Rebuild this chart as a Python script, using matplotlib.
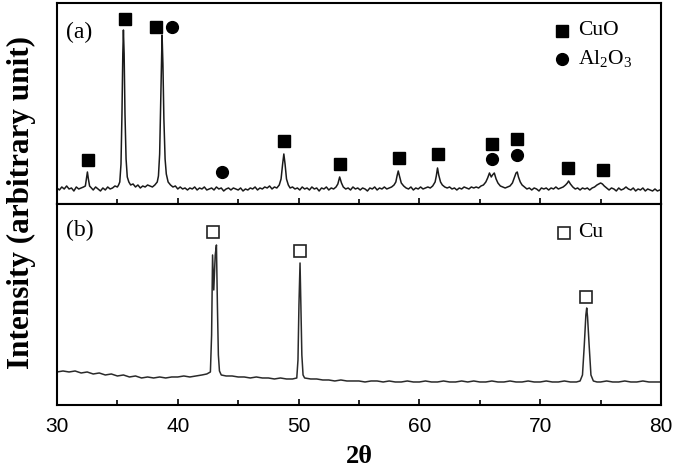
import matplotlib
matplotlib.use("Agg")
import matplotlib.pyplot as plt
from matplotlib.ticker import MultipleLocator

plt.rcParams["mathtext.fontset"] = "custom"
plt.rcParams["mathtext.rm"] = "Liberation Serif"

# (a) CuO / Al2O3 pattern (2theta, intensity)
tt_a = [30.0, 30.2, 30.4, 30.6, 30.8, 31.0, 31.2, 31.4, 31.6, 31.8, 32.0, 32.2,
        32.35, 32.45, 32.52, 32.6, 32.7, 32.85,
        33.0, 33.2, 33.4, 33.6, 33.8, 34.0, 34.2, 34.4, 34.6, 34.8, 35.0, 35.1,
        35.2, 35.3, 35.38, 35.45, 35.5, 35.56, 35.63, 35.72, 35.82, 35.95, 36.1, 36.3,
        36.5, 36.7, 36.9, 37.1, 37.3, 37.5, 37.7, 37.9, 38.1, 38.3,
        38.4, 38.5, 38.6, 38.7, 38.77, 38.85, 38.95, 39.05, 39.2, 39.4, 39.6, 39.8,
        40.0, 40.2, 40.4, 40.6, 40.8, 41.0, 41.2, 41.4, 41.6, 41.8, 42.0, 42.2, 42.4,
        42.6, 42.8, 43.0, 43.2, 43.4, 43.6, 43.8, 44.0, 44.2, 44.4, 44.6, 44.8, 45.0,
        45.2, 45.4, 45.6, 45.8, 46.0, 46.2, 46.4, 46.6, 46.8, 47.0, 47.2, 47.4, 47.6,
        47.8, 48.0, 48.2, 48.4,
        48.55, 48.68, 48.78, 48.88, 49.0, 49.15, 49.3, 49.5, 49.7, 49.9, 50.1, 50.3,
        50.5, 50.7, 50.9, 51.1, 51.3, 51.5, 51.7, 51.9, 52.1, 52.3, 52.5, 52.7, 52.9,
        53.1, 53.25, 53.4, 53.55, 53.7, 53.9, 54.1, 54.3, 54.5, 54.7, 54.9, 55.1, 55.3,
        55.5, 55.7, 55.9, 56.1, 56.3, 56.5, 56.7, 56.9, 57.1, 57.3, 57.5, 57.7, 57.9,
        58.05, 58.15, 58.25, 58.35, 58.5, 58.7, 58.9, 59.1, 59.3, 59.5, 59.7, 59.9,
        60.1, 60.3, 60.5, 60.7, 60.9, 61.1, 61.3,
        61.4, 61.5, 61.6, 61.75, 61.9, 62.1, 62.3, 62.5, 62.7, 62.9, 63.1, 63.3, 63.5,
        63.7, 63.9, 64.1, 64.3, 64.5, 64.7, 64.9, 65.1, 65.3, 65.5,
        65.65, 65.8, 65.95, 66.05, 66.2, 66.35, 66.5, 66.7, 66.9, 67.1, 67.3, 67.5,
        67.7, 67.85, 68.0, 68.1, 68.2, 68.35, 68.5, 68.7, 68.9, 69.1, 69.3, 69.5,
        69.7, 69.9, 70.1, 70.3, 70.5, 70.7, 70.9, 71.1, 71.3, 71.5, 71.7, 71.9, 72.1,
        72.25, 72.35, 72.5, 72.7, 72.9, 73.1, 73.3, 73.5, 73.7, 73.9, 74.1, 74.3,
        74.5, 74.7, 74.85, 75.0, 75.15, 75.3, 75.5, 75.7, 75.9, 76.1, 76.3, 76.5,
        76.7, 76.9, 77.1, 77.3, 77.5, 77.7, 77.9, 78.1, 78.3, 78.5, 78.7, 78.9,
        79.1, 79.3, 79.5, 79.7, 79.9, 80.0]
int_a = [16, 14, 17, 15, 18, 15, 16, 13, 17, 15, 16, 17,
         18, 26, 32, 25, 18, 16,
         14, 17, 15, 13, 16, 14, 17, 15, 16, 18, 17, 19,
         22, 40, 90, 150, 174, 150, 90, 45, 27, 22, 19, 20,
         17, 19, 16, 18, 17, 19, 18, 17, 19, 22,
         28, 50, 110, 169, 140, 85, 45, 30, 22, 19, 17, 18,
         15, 17, 15, 16, 14, 16, 15, 17, 14, 16, 15, 17, 14,
         15, 16, 14, 17, 15, 16, 13, 15, 16, 14, 16, 15, 14,
         16, 13, 15, 14, 16, 15, 17, 14, 16, 15, 17, 16, 18,
         15, 17, 16, 19,
         25, 40, 50, 40, 25, 19, 16, 17, 15, 16, 14, 17,
         15, 16, 14, 17, 15, 16, 13, 16, 15, 17, 14, 16, 15,
         17, 20, 27, 21, 17, 15, 16, 14, 17, 15, 16, 14, 16,
         15, 13, 16, 15, 17, 14, 16, 15, 17, 15, 16, 17, 19,
         22, 28, 33, 28, 21, 18, 16, 15, 17, 14, 16, 15,
         17, 15, 16, 17, 16, 18, 22,
         28, 36, 29, 22, 19, 17, 16, 17, 15, 16, 14, 16, 15,
         17, 16, 15, 17, 16, 17, 16, 18, 19, 22,
         26, 31, 27, 29, 31, 25, 21, 18, 17, 16, 17, 18,
         21, 26, 31, 32, 27, 22, 19, 17, 15, 16, 14, 16,
         15, 13, 16, 15, 16, 14, 16, 15, 17, 15, 16, 17, 19,
         21, 23, 20, 17, 15, 16, 14, 16, 15, 16, 14, 16,
         17, 19, 20, 21, 20, 18, 16, 14, 16, 15, 13, 16,
         14, 15, 17, 15, 14, 16, 13, 15, 14, 16, 13, 15,
         14, 13, 15, 13, 14, 14]

# (b) Cu pattern
tt_b = [30.0, 30.5, 31.0, 31.5, 32.0, 32.5, 33.0, 33.5, 34.0, 34.5, 35.0, 35.5,
        36.0, 36.5, 37.0, 37.5, 38.0, 38.5, 39.0, 39.5, 40.0, 40.5, 41.0, 41.5,
        42.0, 42.4, 42.7, 42.8, 42.88, 42.98, 43.1, 43.2, 43.28, 43.36, 43.45,
        43.6, 44.0, 44.5, 45.0, 45.5, 46.0, 46.5, 47.0, 47.5, 48.0, 48.5, 49.0,
        49.5, 49.85, 49.95, 50.03, 50.12, 50.19, 50.27, 50.37, 50.5, 51.0, 51.5,
        52.0, 52.5, 53.0, 53.5, 54.0, 54.5, 55.0, 55.5, 56.0, 56.5, 57.0, 57.5,
        58.0, 58.5, 59.0, 59.5, 60.0, 60.5, 61.0, 61.5, 62.0, 62.5, 63.0, 63.5,
        64.0, 64.5, 65.0, 65.5, 66.0, 66.5, 67.0, 67.5, 68.0, 68.5, 69.0, 69.5,
        70.0, 70.5, 71.0, 71.5, 72.0, 72.5, 73.0, 73.3, 73.5, 73.65, 73.78, 73.85,
        73.92, 74.05, 74.2, 74.4, 74.7, 75.0, 75.5, 76.0, 76.5, 77.0, 77.5, 78.0,
        78.5, 79.0, 79.5, 80.0]
int_b = [33, 34, 33, 34, 32, 33, 31, 32, 30, 31, 29, 30,
         28, 29, 27, 28, 27, 28, 27, 28, 28, 29, 28, 29,
         30, 31, 33, 70, 150, 115, 150, 160, 100, 50, 34,
         30, 29, 29, 28, 28, 27, 28, 27, 27, 26, 27, 26,
         26, 27, 45, 100, 142, 100, 50, 30, 27, 26, 26,
         25, 25, 24, 25, 24, 24, 24, 23, 24, 24, 23, 24,
         23, 23, 24, 23, 23, 24, 23, 23, 24, 23, 23, 24,
         23, 24, 23, 23, 24, 23, 23, 24, 23, 23, 24, 23,
         23, 24, 23, 23, 24, 23, 23, 24, 30, 60, 90, 97,
         88, 60, 30, 24, 23, 23, 24, 23, 23, 24, 23, 23,
         24, 23, 23, 23]

# phase markers
cuo_x = [32.55, 35.65, 38.17, 48.79, 53.43, 58.34, 61.51, 66.04, 68.05, 72.33, 75.2]
cuo_y = [44, 185, 177, 63, 40, 46, 50, 60, 65, 36, 34]
al2o3_x = [39.49, 43.63, 66.04, 68.05]
al2o3_y = [177, 32, 45, 49]
cu_x = [42.94, 50.12, 73.8]
cu_y = [173, 154, 108]

fig = plt.figure(figsize=(6.79, 4.67), dpi=100)
ax1 = fig.add_axes([0.0839, 0.5632, 0.8896, 0.4304])
ax2 = fig.add_axes([0.0839, 0.1328, 0.8896, 0.4304], sharex=ax1)

serif = "Liberation Serif"
mk = dict(linestyle="none", markersize=8.5)

ax1.plot(tt_a, int_a, color="#1a1a1a", lw=1.1)
ax1.plot(cuo_x, cuo_y, marker="s", color="black", **mk)
ax1.plot(al2o3_x, al2o3_y, marker="o", color="black", **mk)
ax1.plot([71.78], [173], marker="s", color="black", **mk)
ax1.plot([71.78], [145], marker="o", color="black", **mk)
ax1.text(73.1, 173, "CuO", family=serif, fontsize=15.5, va="center")
ax1.text(73.1, 145, "Al$_{2}$O$_{3}$", family=serif, fontsize=15.5, va="center")
ax1.text(30.75, 172, "(a)", family=serif, fontsize=17, va="center")
ax1.set_ylim(0, 201)

ax2.plot(tt_b, int_b, color="#2a2a2a", lw=1.1)
ax2.plot(cu_x, cu_y, marker="s", markerfacecolor="white", markeredgecolor="#222222",
         markeredgewidth=1.2, **mk)
ax2.plot([71.97], [172], marker="s", markerfacecolor="white", markeredgecolor="#222222",
         markeredgewidth=1.2, **mk)
ax2.text(73.1, 172, "Cu", family=serif, fontsize=15.5, va="center")
ax2.text(30.75, 175, "(b)", family=serif, fontsize=17, va="center")
ax2.set_ylim(0, 201)

for ax in (ax1, ax2):
    ax.set_xlim(30, 80)
    ax.xaxis.set_major_locator(MultipleLocator(10))
    ax.xaxis.set_minor_locator(MultipleLocator(5))
    ax.tick_params(axis="x", which="major", direction="in", length=4, width=1.2)
    ax.tick_params(axis="x", which="minor", direction="in", length=3.5, width=1.2)
    ax.set_yticks([])
    for s in ax.spines.values():
        s.set_linewidth(1.5)

ax1.tick_params(axis="x", labelbottom=False)
for lab in ax2.get_xticklabels():
    lab.set_family("Liberation Sans")
    lab.set_fontsize(15)
ax2.tick_params(axis="x", pad=9)

ax2.set_xlabel("2θ", family=serif, fontweight="bold", fontsize=19, labelpad=6)
fig.text(0.032, 0.567, "Intensity (arbitrary unit)", family=serif, fontweight="bold",
         fontsize=22.5, rotation=90, ha="center", va="center")

fig.savefig("out.png", dpi=100)
